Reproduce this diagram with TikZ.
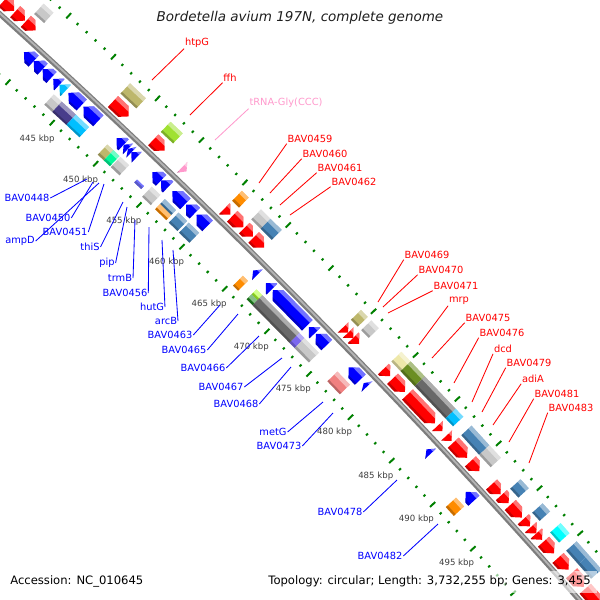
\documentclass[tikz,border=0pt]{standalone}
\usepackage{fontspec}
\setmainfont{DejaVu Sans}
\definecolor{cogKhaki}{RGB}{189,183,107}
\definecolor{cogLime}{RGB}{160,225,50}
\definecolor{cogGray}{RGB}{200,200,200}
\definecolor{cogSteel}{RGB}{70,130,180}
\definecolor{cogOrange}{RGB}{255,140,0}
\definecolor{cogSlate}{RGB}{72,61,139}
\definecolor{cogSky}{RGB}{0,191,255}
\definecolor{cogSpring}{RGB}{0,250,154}
\definecolor{cogDim}{RGB}{105,105,105}
\definecolor{cogPurple}{RGB}{123,104,238}
\definecolor{cogCoral}{RGB}{240,128,128}
\definecolor{cogOlive}{RGB}{107,142,35}
\definecolor{cogPale}{RGB}{238,232,170}
\definecolor{cogCyan}{RGB}{0,255,255}
\definecolor{cogGreenY}{RGB}{173,255,47}
\definecolor{cogForest}{RGB}{34,139,34}
\definecolor{trnaPink}{RGB}{255,153,204}
\definecolor{tickGreen}{RGB}{0,128,0}
\definecolor{kbpGray}{RGB}{60,60,60}

% degrees per kbp and backbone radius (in px)
\def\kf{0.0964564}
\def\Rb{7163}

% one feature: tail, head base, tip (kbp), inner and outer radius, colour
\newcommand\featpath[6]{%
  \path[#1] ({90-#2*\kf}:#5) -- ({90-#2*\kf}:#6) -- ({90-#3*\kf}:#6)
    -- ({90-#4*\kf}:{#5/2+#6/2}) -- ({90-#3*\kf}:#5) -- cycle;}
\newcommand\feat[6]{%
  \featpath{fill=#6}{#1}{#2}{#3}{#4}{#5}
  \begin{scope}
    \featpath{clip}{#1}{#2}{#3}{#4}{#5}
    \fill[white,opacity=.45] ({90-(#1/2+#3/2-4)*\kf}:{#5-4}) -- ({90-(#1/2+#3/2+4)*\kf}:{#5-4})
      -- ({90-(#1/2+#3/2+4)*\kf}:{#5+1}) -- ({90-(#1/2+#3/2-4)*\kf}:{#5+1}) -- cycle;
    \fill[black,opacity=.22] ({90-(#1/2+#3/2-4)*\kf}:{#4-1}) -- ({90-(#1/2+#3/2+4)*\kf}:{#4-1})
      -- ({90-(#1/2+#3/2+4)*\kf}:{#4+2.5}) -- ({90-(#1/2+#3/2-4)*\kf}:{#4+2.5}) -- cycle;
  \end{scope}}
\newcommand\fwdgene[3]{\pgfmathsetmacro\gHead{max(#1,#2-0.62)}\feat{#1}{\gHead}{#2}{7167.5}{7182.5}{#3}}
\newcommand\revgene[3]{\pgfmathsetmacro\gHead{min(#2,#1+0.62)}\feat{#2}{\gHead}{#1}{7143.5}{7158.5}{#3}}
\newcommand\fwdcog[3]{\feat{#1}{#2}{#2}{7186}{7200}{#3}}
\newcommand\revcog[3]{\feat{#1}{#2}{#2}{7126}{7140}{#3}}

\begin{document}
\begin{tikzpicture}[x=0.025cm,y=0.025cm,
    redlbl/.style={text=red,font=\fontsize{7}{8}\selectfont,inner sep=0.5pt},
    bluelbl/.style={text=blue,font=\fontsize{7}{8}\selectfont,inner sep=0.5pt},
    redline/.style={red,line width=0.6pt},
    blueline/.style={blue,line width=0.6pt},
    kbp/.style={text=kbpGray,font=\fontsize{6.1}{7}\selectfont,inner sep=0pt},
    tick/.style={tickGreen,line width=1.4pt},
    foot/.style={font=\fontsize{8.25}{10}\selectfont,inner sep=0pt}]
  \useasboundingbox (0,0) rectangle (600,-600);
  \clip (0,0) rectangle (600,-600);

  \begin{scope}[shift={(-4795,-5335)}]
    % tick rows
    \foreach \p in {428,...,512}{
      \pgfmathtruncatemacro\tmod{mod(\p,5)}
      \ifnum\tmod=0 \def\tl{3.6}\else\def\tl{1.3}\fi
      \foreach \r in {7208,7118}
        \draw[tick] ({90-\p*\kf}:{\r-\tl}) -- ({90-\p*\kf}:{\r+\tl});
    }
    \foreach \p in {445,450,...,495}
      \node[kbp] (k\p) at ({90-\p*\kf}:7096) {\p\ kbp};

    % backbone
    \draw[line width=3.8pt,color={rgb,255:red,125;green,125;blue,125}]
      ({90-428*\kf}:\Rb) arc[start angle={90-428*\kf},end angle={90-512*\kf},radius=\Rb];
    \draw[line width=1.3pt,color={rgb,255:red,180;green,180;blue,180}]
      ({90-428*\kf}:\Rb+0.5) arc[start angle={90-428*\kf},end angle={90-512*\kf},radius=\Rb+0.5];

    % forward strand genes
    \fwdgene{435.2}{436.4}{red}
    \fwdgene{436.5}{437.6}{red}
    \fwdgene{437.7}{438.8}{red}
    \fwdgene{447.5}{449.3}{red}
    \fwdgene{452.1}{453.4}{red}
    \fwdgene{455.4}{455.9}{trnaPink}
    \fwdgene{460.3}{461.0}{red}
    \fwdgene{461.2}{462.5}{red}
    \fwdgene{462.6}{463.6}{red}
    \fwdgene{463.7}{464.9}{red}
    \fwdgene{474.2}{474.8}{red}
    \fwdgene{474.8}{475.4}{red}
    \fwdgene{475.4}{476.1}{red}
    \fwdgene{479.0}{479.8}{red}
    \fwdgene{480.1}{481.6}{red}
    \fwdgene{481.9}{485.2}{red}
    \fwdgene{485.5}{486.1}{red}
    \fwdgene{486.6}{487.2}{red}
    \fwdgene{487.4}{489.1}{red}
    \fwdgene{489.5}{490.6}{red}
    \fwdgene{492.1}{493.2}{red}
    \fwdgene{493.3}{494.2}{red}
    \fwdgene{494.4}{495.8}{red}
    \fwdgene{496.0}{496.8}{red}
    \fwdgene{496.9}{497.6}{red}
    \fwdgene{497.6}{498.3}{red}
    \fwdgene{498.5}{499.8}{red}
    \fwdgene{500.3}{501.6}{red}
    \fwdgene{502.0}{503.5}{red}
    \fwdgene{503.7}{505.5}{red}

    % forward strand COG boxes
    \fwdcog{437.8}{438.9}{cogGray}
    \fwdcog{447.5}{449.3}{cogKhaki}
    \fwdcog{452.1}{453.5}{cogLime}
    \fwdcog{460.3}{461.1}{cogOrange}
    \fwdcog{462.5}{463.6}{cogGray}
    \fwdcog{463.6}{464.9}{cogSteel}
    \fwdcog{474.2}{475.0}{cogKhaki}
    \fwdcog{475.4}{476.3}{cogGray}
    \fwdcog{479.0}{480.1}{cogPale}
    \fwdcog{480.1}{481.8}{cogOlive}
    \fwdcog{481.8}{485.5}{cogDim}
    \fwdcog{485.5}{486.4}{cogSky}
    \fwdcog{487.4}{489.6}{cogSteel}
    \fwdcog{489.6}{491.0}{cogGray}
    \fwdcog{493.4}{494.4}{cogSteel}
    \fwdcog{496.1}{497.0}{cogSteel}
    \fwdcog{498.3}{499.4}{cogCyan}
    \fwdcog{500.3}{501.8}{cogSteel}
    \fwdcog{501.8}{503.4}{cogSteel}

    % reverse strand genes
    \revgene{439.3}{440.4}{blue}
    \revgene{440.4}{441.4}{blue}
    \revgene{441.4}{442.4}{blue}
    \revgene{442.6}{443.3}{blue}
    \revgene{443.3}{444.0}{cogSky}
    \revgene{444.3}{445.8}{blue}
    \revgene{446.0}{447.7}{blue}
    \revgene{449.8}{450.6}{blue}
    \revgene{450.6}{451.1}{blue}
    \revgene{451.1}{451.5}{blue}
    \revgene{451.5}{452.1}{blue}
    \revgene{453.9}{454.9}{blue}
    \revgene{454.9}{455.7}{blue}
    \revgene{456.2}{457.7}{blue}
    \revgene{457.8}{458.8}{blue}
    \revgene{459.0}{460.3}{blue}
    \revgene{465.6}{466.1}{blue}
    \revgene{467.1}{467.8}{blue}
    \revgene{467.9}{472.0}{blue}
    \revgene{472.2}{472.9}{blue}
    \revgene{473.0}{474.3}{blue}
    \revgene{476.9}{478.3}{blue}
    \revgene{478.7}{479.1}{blue}
    \revgene{486.3}{486.8}{blue}
    \revgene{491.1}{492.1}{blue}

    % reverse strand COG boxes
    \revcog{443.5}{444.4}{cogGray}
    \revcog{444.4}{446.0}{cogSlate}
    \revcog{446.0}{447.5}{cogSky}
    \revcog{449.6}{450.3}{cogKhaki}
    \revcog{450.3}{451.0}{cogSpring}
    \revcog{451.1}{452.1}{cogGray}
    \feat{453.4}{454.2}{454.2}{7131}{7135}{blue}
    \revcog{454.7}{455.7}{cogGray}
    \feat{456.2}{457.5}{457.5}{7133}{7140}{cogSteel}
    \feat{456.2}{457.5}{457.5}{7126}{7133}{cogOrange}
    \revcog{457.8}{458.8}{cogSteel}
    \revcog{459.0}{460.2}{cogSteel}
    \revcog{465.3}{465.9}{cogOrange}
    \feat{466.9}{467.6}{467.6}{7133}{7140}{cogGreenY}
    \feat{466.9}{467.6}{467.6}{7126}{7133}{cogForest}
    \revcog{467.6}{472.0}{cogDim}
    \revcog{472.0}{472.6}{cogPurple}
    \revcog{472.6}{474.3}{cogGray}
    \revcog{476.5}{478.0}{cogCoral}
    \revcog{490.9}{491.9}{cogOrange}
  \end{scope}

  % gene labels
  \foreach \n/\x/\y/\lx/\ly in {htpG/197/43/152/80, ffh/230/78/190/115,
      BAV0459/310/139/259/183, BAV0460/325/154/270/193, BAV0461/340/168/280/205,
      BAV0462/354/182/290/215, BAV0469/427/255/378/302, BAV0470/441/270/383/307,
      BAV0471/456/286/388/313, mrp/459/301/419/345, BAV0475/488/318/432/358,
      BAV0476/502/333/454/383, dcd/503/349/472/402, BAV0479/529/363/482/412,
      adiA/533/379/493/425, BAV0481/557/394/509/442, BAV0483/571/408/529/463}{
    \node[redlbl] (\n) at (\x,-\y) {\n};
    \coordinate (\n-a) at (\lx,-\ly);
    \draw[redline] (\n-a) -- (\n.south west);
  }
  \node[redlbl,text=trnaPink] (trna) at (286,-103) {tRNA-Gly(CCC)};
  \coordinate (trna-a) at (215,-140);
  \draw[trnaPink,line width=0.6pt] (trna-a) -- (trna.south west);

  \foreach \n/\x/\y/\lx/\ly in {BAV0448/27/198/87/179, BAV0450/48/218/93/182,
      ampD/20/241/99/183, BAV0451/65/232/104/184, thiS/90/247/123/202,
      pip/107/263/127/207, trmB/120/278/135/220, BAV0456/125/293/149/227,
      hutG/152/307/162/240, arcB/166/321/173/250, BAV0463/170/335/220/305,
      BAV0465/184/350/238/314, BAV0466/203/368/259/336, BAV0467/221/387/282/358,
      BAV0468/236/404/291/367, metG/273/432/323/402, BAV0473/279/446/333/413,
      BAV0478/340/512/397/480, BAV0482/380/556/438/524}{
    \node[bluelbl] (\n) at (\x,-\y) {\n};
    \coordinate (\n-a) at (\lx,-\ly);
    \draw[blueline] (\n-a) -- (\n.east);
  }

  % title and footer
  \node[font=\fontsize{9.6}{11}\selectfont\itshape,text={rgb,255:red,30;green,30;blue,30}]
    (title) at (300,-18) {Bordetella avium 197N, complete genome};
  \fill[white,opacity=.6] (255,-571) rectangle (597,-593);
  \node[foot,anchor=west] (acc) at (10,-581) {Accession: NC\_010645};
  \node[foot,anchor=east] (topo) at (591,-581) {Topology: circular; Length: 3,732,255 bp; Genes: 3,455};
\end{tikzpicture}
\end{document}
